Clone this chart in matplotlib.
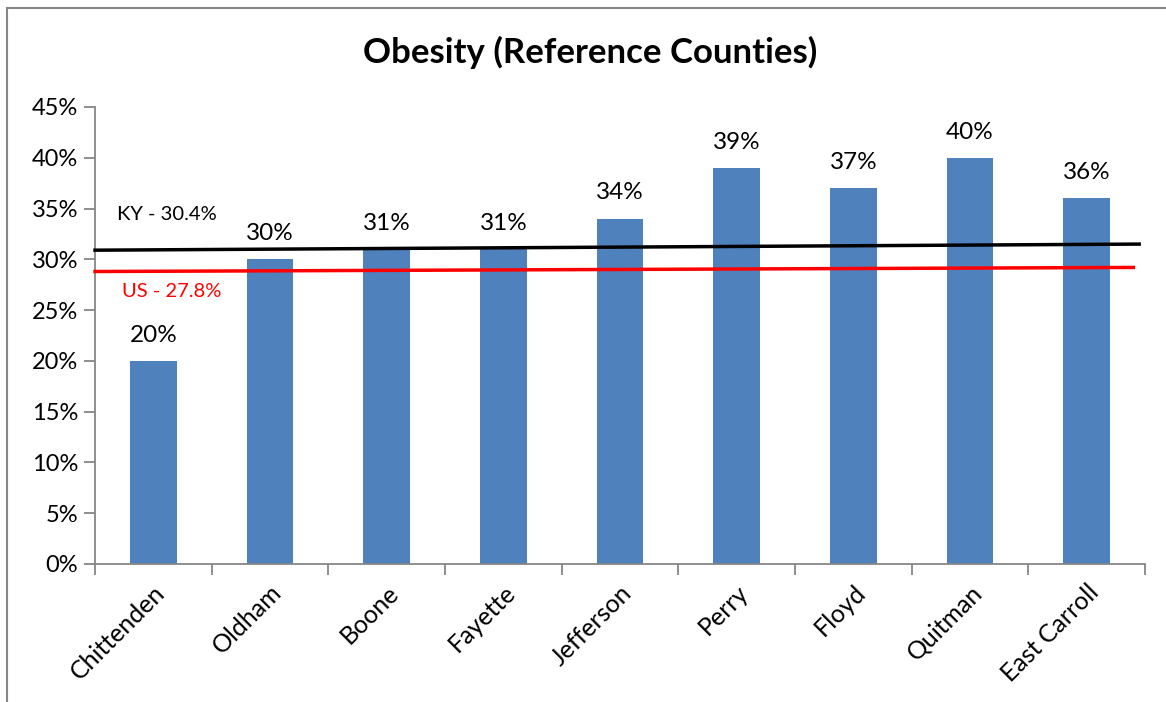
import matplotlib
matplotlib.use("Agg")
import matplotlib.pyplot as plt
from matplotlib.patches import Rectangle
from matplotlib.ticker import FuncFormatter, MultipleLocator

plt.rcParams["font.family"] = ["Lato", "DejaVu Sans"]

counties = ["Chittenden", "Oldham", "Boone", "Fayette", "Jefferson",
            "Perry", "Floyd", "Quitman", "East Carroll"]
obesity = [20, 30, 31, 31, 34, 39, 37, 40, 36]

ky_rate = 30.4
us_rate = 27.8
# reference lines rise slightly from left to right
ref_tilt = [0.5, 1.1]
us_tilt = [1.0, 1.4]

bar_color = "#4F81BD"
axis_gray = "#868686"

fig = plt.figure(figsize=(11.66, 7.02), dpi=100)
ax = fig.add_axes([0.0815, 0.1966, 0.9005, 0.651])

x = list(range(len(counties)))
ax.bar(x, obesity, width=0.4, color=bar_color, zorder=2)
for xi, v in zip(x, obesity):
    ax.text(xi, v + 1.5, f"{v}%", ha="center", va="bottom", fontsize=17.5)

ax.set_xlim(-0.5, len(counties) - 0.5)
ax.set_ylim(0, 45)
ax.yaxis.set_major_locator(MultipleLocator(5))
ax.yaxis.set_major_formatter(FuncFormatter(lambda v, _: f"{v:.0f}%"))
ax.set_xticks([i - 0.5 for i in range(len(counties) + 1)])
ax.set_xticklabels([])
ax.set_xticks(x, minor=True)
ax.set_xticklabels(counties, minor=True, rotation=45, ha="right",
                   rotation_mode="anchor", fontsize=18)
ax.tick_params(axis="x", which="minor", length=0, pad=12)
ax.tick_params(axis="x", which="major", length=8, color=axis_gray, width=1.3)
ax.tick_params(axis="y", length=8, color=axis_gray, width=1.3, labelsize=17, pad=4)

for side in ["top", "right"]:
    ax.spines[side].set_visible(False)
for side in ["left", "bottom"]:
    ax.spines[side].set_color(axis_gray)
    ax.spines[side].set_linewidth(1.3)

# state and national averages
ax.plot([-0.5, 8.45], [ky_rate + t for t in ref_tilt], color="black", lw=2.5,
        zorder=3, clip_on=False)
ax.plot([-0.5, 8.4], [us_rate + t for t in us_tilt], color="#FF0000", lw=2.5,
        zorder=3, clip_on=False)
ax.text(-0.31, 34.4, f"KY - {ky_rate}%", fontsize=14.5, va="center")
ax.text(-0.27, 26.8, f"US - {us_rate}%", fontsize=14.5, va="center",
        color="#FF0000")

fig.text(0.506, 0.925, "Obesity (Reference Counties)", ha="center",
         va="center", fontsize=25, fontweight="bold")

# chart frame: only the top and left edges fall inside the image
fig.patches.append(Rectangle((7 / 1166, -10 / 702), 1200 / 1166, 704 / 702,
                             transform=fig.transFigure, fill=False,
                             edgecolor=axis_gray, lw=1.5))

fig.savefig("out.png", dpi=100)
